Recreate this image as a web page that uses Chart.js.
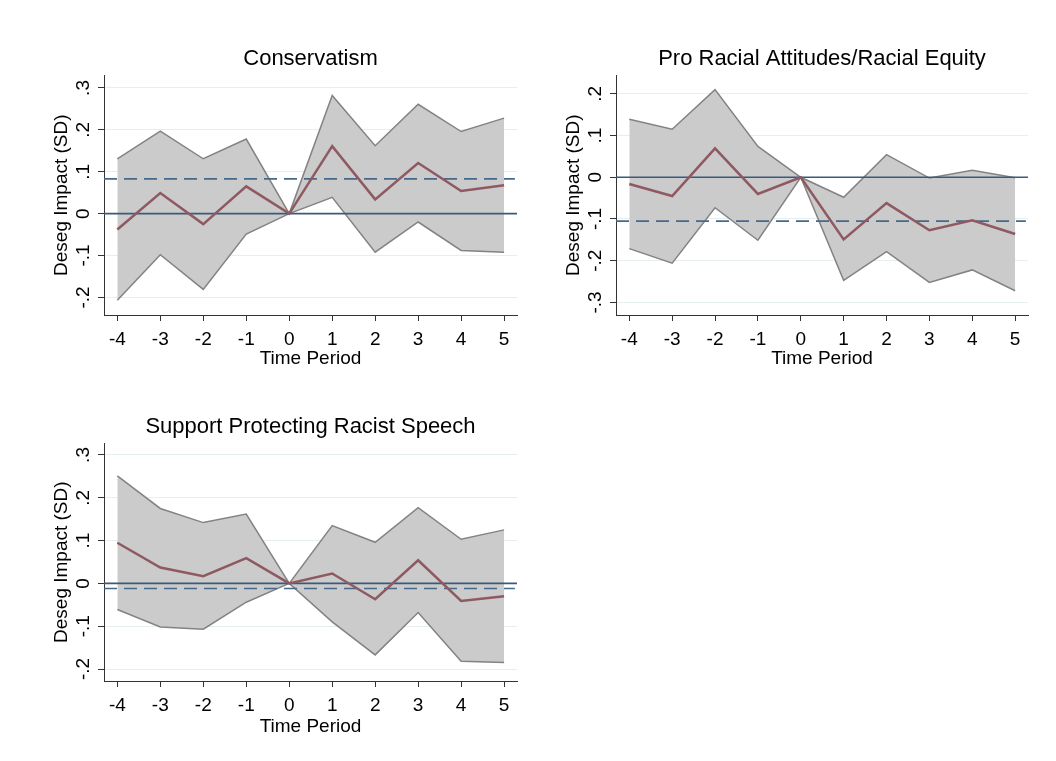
<!DOCTYPE html>
<html>
<head>
<meta charset="utf-8">
<script src="https://cdn.jsdelivr.net/npm/chart.js@4"></script>
<style>
body { margin: 0; background: #fff; }
#wrap { position: relative; width: 1056px; height: 761px; background: #fff; }
canvas { position: absolute; }
</style>
</head>
<body>
<div id="wrap">
  <canvas id="c1" width="528" height="380" style="left:0;top:0"></canvas>
  <canvas id="c2" width="528" height="380" style="left:528px;top:0"></canvas>
  <canvas id="c3" width="528" height="381" style="left:0;top:380px"></canvas>
</div>
<script>
const periods = [-4, -3, -2, -1, 0, 1, 2, 3, 4, 5];

// Conservatism
const consUpper = [0.131, 0.197, 0.131, 0.178, 0, 0.282, 0.162, 0.261, 0.196, 0.228];
const consMean  = [-0.038, 0.049, -0.025, 0.065, 0, 0.161, 0.034, 0.121, 0.054, 0.068];
const consLower = [-0.207, -0.098, -0.181, -0.049, 0, 0.039, -0.092, -0.020, -0.088, -0.092];
const consAvg = 0.083;
const consTicks = [-0.2, -0.1, 0, 0.1, 0.2, 0.3];

// Pro Racial Attitudes/Racial Equity
const equityUpper = [0.139, 0.115, 0.210, 0.074, 0, -0.048, 0.054, -0.002, 0.017, -0.001];
const equityMean  = [-0.016, -0.045, 0.069, -0.040, 0, -0.149, -0.062, -0.127, -0.103, -0.136];
const equityLower = [-0.171, -0.206, -0.073, -0.151, 0, -0.247, -0.178, -0.252, -0.222, -0.272];
const equityAvg = -0.105;
const equityTicks = [-0.3, -0.2, -0.1, 0, 0.1, 0.2];

// Support Protecting Racist Speech
const speechUpper = [0.251, 0.175, 0.142, 0.162, 0, 0.135, 0.096, 0.177, 0.103, 0.125];
const speechMean  = [0.095, 0.037, 0.017, 0.059, 0, 0.023, -0.037, 0.054, -0.041, -0.030];
const speechLower = [-0.061, -0.102, -0.107, -0.044, 0, -0.090, -0.167, -0.068, -0.182, -0.185];
const speechAvg = -0.012;
const speechTicks = [-0.2, -0.1, 0, 0.1, 0.2, 0.3];

const xMin = -4.31, xMax = 5.3;
const FONT = 'Liberation Sans, Arial, sans-serif';

function stataLabel(v) {
  if (Math.abs(v) < 1e-9) return '0';
  return v.toFixed(1).replace('0.', '.');
}

function pts(ys) {
  return periods.map((p, i) => ({ x: p, y: ys[i] }));
}

function makePanel(id, title, upper, mean, lower, avg, yTicks, yMin, yMax, pad, xH) {
  return new Chart(document.getElementById(id), {
    type: 'line',
    data: {
      datasets: [
        { data: pts(mean), borderColor: '#8f5962', borderWidth: 2.5, pointRadius: 0, fill: false },
        { data: [{ x: xMin, y: 0 }, { x: xMax, y: 0 }], borderColor: '#3a5a7c', borderWidth: 1.6, pointRadius: 0, fill: false },
        { data: [{ x: xMin, y: avg }, { x: xMax - 0.05, y: avg }], borderColor: '#46698b', borderWidth: 1.6, borderDash: [13, 7], pointRadius: 0, fill: false },
        { data: pts(lower), borderColor: '#838383', borderWidth: 1.5, pointRadius: 0, fill: false },
        { data: pts(upper), borderColor: '#838383', borderWidth: 1.5, pointRadius: 0, fill: '-1', backgroundColor: '#cbcbcb' }
      ]
    },
    options: {
      responsive: false,
      animation: false,
      layout: { padding: pad },
      plugins: {
        legend: { display: false },
        tooltip: { enabled: false },
        title: {
          display: true, text: title, fullSize: false, color: '#000',
          font: { family: FONT, size: 22, weight: 'normal' },
          padding: { top: 0, bottom: 3 }
        }
      },
      scales: {
        x: {
          type: 'linear', min: xMin, max: xMax,
          afterBuildTicks: s => { s.ticks = periods.map(v => ({ value: v })); },
          afterFit: s => { s.height = xH; },
          grid: { drawOnChartArea: false, tickLength: 6, tickColor: '#333', tickWidth: 1 },
          border: { color: '#333', width: 1 },
          ticks: { color: '#000', font: { family: FONT, size: 19 }, padding: 7, maxRotation: 0, minRotation: 0,
                   callback: v => String(v) },
          title: { display: true, text: 'Time Period', color: '#000', font: { family: FONT, size: 19 }, padding: { top: 0, bottom: 1 } }
        },
        y: {
          type: 'linear', min: yMin, max: yMax,
          afterBuildTicks: s => { s.ticks = yTicks.map(v => ({ value: v })); },
          afterFit: s => { s.width = 54; },
          grid: { color: '#e6eef0', lineWidth: 1, tickLength: 6, tickColor: '#333', tickWidth: 1 },
          border: { color: '#333', width: 1 },
          ticks: { color: '#000', font: { family: FONT, size: 19 }, padding: 3, minRotation: 90, maxRotation: 90,
                   crossAlign: 'center', callback: v => stataLabel(v) },
          title: { display: true, text: 'Deseg Impact (SD)', color: '#000', font: { family: FONT, size: 19 }, padding: 0 }
        }
      }
    }
  });
}

makePanel('c1', 'Conservatism', consUpper, consMean, consLower, consAvg, consTicks, -0.242, 0.33,
  { left: 50, right: 11, top: 46, bottom: 9 }, 56);
makePanel('c2', 'Pro Racial Attitudes/Racial Equity', equityUpper, equityMean, equityLower, equityAvg, equityTicks, -0.33, 0.244,
  { left: 34, right: 28, top: 46, bottom: 9 }, 56);
makePanel('c3', 'Support Protecting Racist Speech', speechUpper, speechMean, speechLower, speechAvg, speechTicks, -0.228, 0.327,
  { left: 50, right: 11, top: 34, bottom: 22 }, 58);
</script>
</body>
</html>
